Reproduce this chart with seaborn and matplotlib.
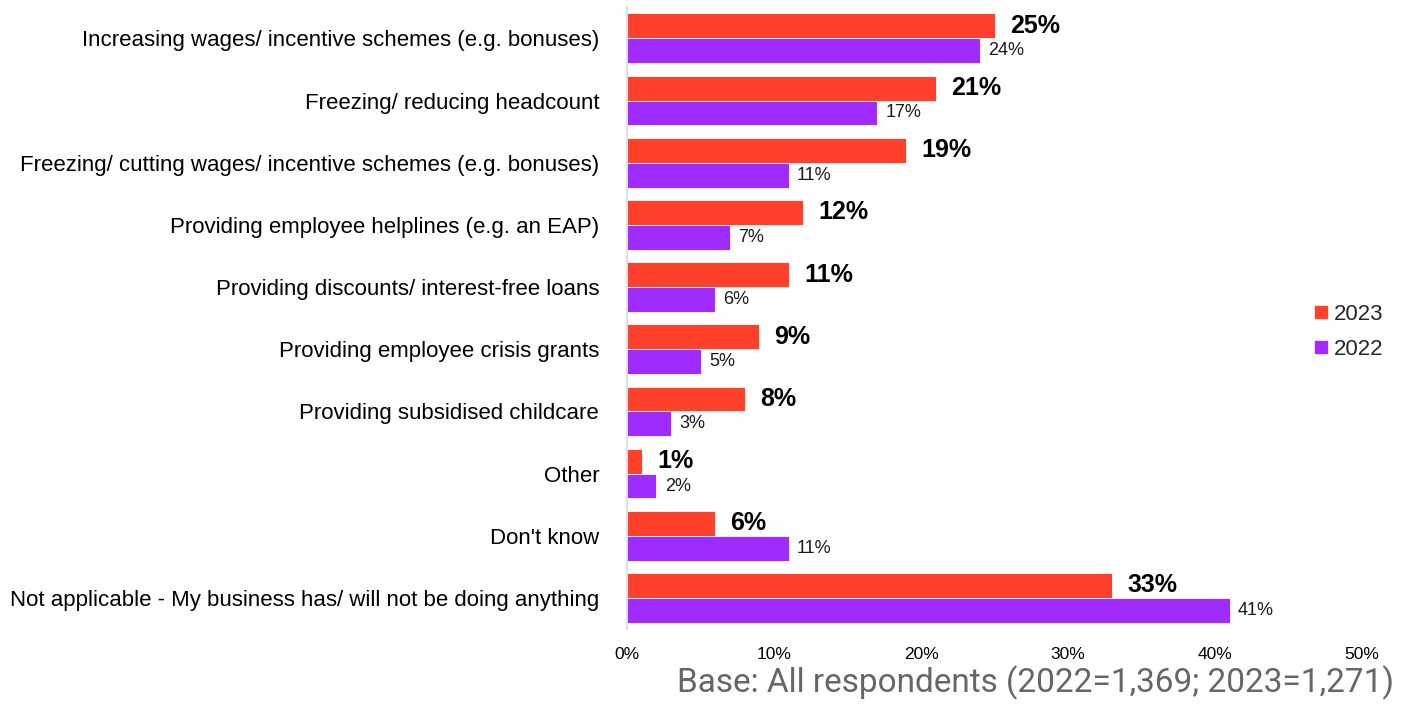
import matplotlib
matplotlib.use("Agg")
import matplotlib.pyplot as plt
import seaborn as sns
import pandas as pd
from matplotlib.lines import Line2D

categories = [
    "Increasing wages/ incentive schemes (e.g. bonuses)",
    "Freezing/ reducing headcount",
    "Freezing/ cutting wages/ incentive schemes (e.g. bonuses)",
    "Providing employee helplines (e.g. an EAP)",
    "Providing discounts/ interest-free loans",
    "Providing employee crisis grants",
    "Providing subsidised childcare",
    "Other",
    "Don't know",
    "Not applicable - My business has/ will not be doing anything",
]
values_2023 = [25, 21, 19, 12, 11, 9, 8, 1, 6, 33]
values_2022 = [24, 17, 11, 7, 6, 5, 3, 2, 11, 41]
years = ["2023", "2022"]
colors = {"2023": "#FF412C", "2022": "#A02BFF"}
x_ticks = [0, 10, 20, 30, 40, 50]
footnote = "Base: All respondents (2022=1,369; 2023=1,271)"

df = pd.DataFrame({
    "category": categories * 2,
    "year": ["2023"] * len(categories) + ["2022"] * len(categories),
    "value": values_2023 + values_2022,
})

sns.set_style("white")
plt.rcParams["font.family"] = ["Liberation Sans", "DejaVu Sans"]

fig = plt.figure(figsize=(14.1, 7.09), dpi=100)
ax = fig.add_axes([0.4447, 0.1128, 0.5213, 0.877])

sns.barplot(data=df, y="category", x="value", hue="year", hue_order=years,
            order=categories, palette=colors, saturation=1, orient="h",
            width=0.8, edgecolor="white", linewidth=0.6, legend=False, ax=ax)

ax.set_xlim(0, 50)
ax.set_ylim(len(categories) - 0.5, -0.5)
ax.set_xticks(x_ticks)
ax.set_xticklabels([f"{t}%" for t in x_ticks], fontsize=12.5, color="black")
ax.tick_params(axis="x", length=0, pad=13)
ax.tick_params(axis="y", length=0, pad=20, labelsize=16, labelcolor="black")
ax.set_xlabel("")
ax.set_ylabel("")
for side in ["top", "right", "bottom"]:
    ax.spines[side].set_visible(False)
ax.spines["left"].set_color("#D9D9D9")
ax.spines["left"].set_linewidth(1.2)

# value labels: bold for 2023, regular for 2022
for container, vals, year in zip(ax.containers, [values_2023, values_2022], years):
    if year == "2023":
        ax.bar_label(container, labels=[f"{v}%" for v in vals], padding=11,
                     fontsize=18, fontweight="bold", color="black")
    else:
        ax.bar_label(container, labels=[f"{v}%" for v in vals], padding=6,
                     fontsize=13, color="#1a1a1a")

handles = [Line2D([0], [0], marker="s", linestyle="", markersize=9,
                  markerfacecolor=colors[y], markeredgecolor=colors[y]) for y in years]
fig.legend(handles, years, loc="center left", bbox_to_anchor=(0.915, 0.532),
           frameon=False, fontsize=16, handletextpad=0.05, labelspacing=0.62,
           handlelength=1.0)

fig.text(0.989, 0.012, footnote, ha="right", va="bottom", fontsize=24,
         color="#666666", family=["Roboto", "DejaVu Sans"])

fig.savefig("out.png", dpi=100)
